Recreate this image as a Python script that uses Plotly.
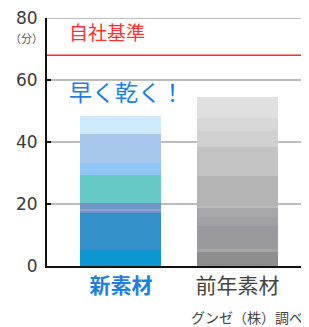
import plotly.graph_objects as go

categories = ["新素材", "前年素材"]
tick_labels = ["<span style='color:#1f7fe0'><b>新素材</b></span>", "前年素材"]

# stacked colour bands of each bar (minutes), bottom to top
new_bands = [5.1, 11.9, 0.9, 0.5, 2.0, 9.0, 3.7, 9.5, 5.9]
new_colors = ["#0c97d0", "#3390c8", "#6c96c6", "#8aaad4", "#6c96c6", "#66c9c6", "#93c6f8", "#a7c7ec", "#cfeafc"]

old_bands = [4.5, 1.1, 7.4, 2.7, 3.3, 0.4, 9.5, 9.5, 5.3, 4.2, 6.6]
old_colors = ["#8e8e8e", "#a6a6a6", "#9a9a9c", "#a2a2a6", "#a8a8ac", "#bdbdbd", "#b4b4b4", "#c3c3c3", "#d1d1d1", "#d8d8d8", "#e0e0e0"]

standard_value = 68
standard_label = "自社基準"
headline = "早く乾く！"
unit_label = "（分）"
source_label = "グンゼ（株）調べ"
y_ticks = [0, 20, 40, 60, 80]

FONT = "Noto Sans CJK JP"
fig = go.Figure()
for v, c in zip(new_bands, new_colors):
    fig.add_trace(go.Bar(x=[categories[0]], y=[v], marker=dict(color=c, line=dict(width=0)),
                         width=0.695, showlegend=False, hoverinfo="skip"))
for v, c in zip(old_bands, old_colors):
    fig.add_trace(go.Bar(x=[categories[1]], y=[v], marker=dict(color=c, line=dict(width=0)),
                         width=0.695, showlegend=False, hoverinfo="skip"))

# top gridline at the axis maximum (plotly skips it at the range edge)
fig.add_shape(type="line", xref="paper", x0=0, x1=1, yref="y", y0=y_ticks[-1], y1=y_ticks[-1],
              line=dict(color="#bdbdbd", width=2), layer="below")
fig.add_shape(type="line", xref="paper", x0=0, x1=1, yref="y", y0=standard_value, y1=standard_value,
              line=dict(color="#ff2a2a", width=1.5))

fig.add_annotation(text=standard_label, xref="paper", x=0.078, xanchor="left", yref="y", y=75.8,
                   yanchor="middle", showarrow=False, font=dict(family=FONT, size=19, color="#ff3030"))
fig.add_annotation(text=headline, xref="paper", x=0.078, xanchor="left", yref="y", y=56.5,
                   yanchor="middle", showarrow=False, font=dict(family=FONT, size=23, color="#1a7fe6"))
fig.add_annotation(text=unit_label, xref="paper", x=-0.078, xanchor="center", yref="y", y=73.6,
                   yanchor="middle", showarrow=False, font=dict(family=FONT, size=11, color="#555555"))
fig.add_annotation(text=source_label, xref="paper", x=0.985, xanchor="right", yref="paper", y=-0.206,
                   yanchor="middle", showarrow=False, font=dict(family=FONT, size=14, color="#444444"))

# the page body adds an 8px margin, so the figure is 8px smaller
fig.update_layout(
    width=301, height=319,
    margin=dict(l=39, r=0, t=6, b=61),
    barmode="stack",
    plot_bgcolor="white", paper_bgcolor="white",
    font=dict(family=FONT),
    xaxis=dict(type="category", categoryarray=categories, range=[-0.635, 1.614],
               tickvals=categories, ticktext=tick_labels,
               tickfont=dict(family=FONT, size=21, color="#444444"),
               showline=True, linecolor="#111111", linewidth=2, ticks="", showgrid=False,
               fixedrange=True),
    yaxis=dict(range=[0, 80], tickvals=y_ticks, ticktext=[str(t) for t in y_ticks],
               tickfont=dict(family="DejaVu Sans", size=17, color="#3a3a3a"),
               ticklabelstandoff=4, ticklabeloverflow="allow",
               showline=True, linecolor="#111111", linewidth=2,
               ticks="inside", ticklen=4, tickwidth=2, tickcolor="#111111",
               showgrid=True, gridcolor="#bdbdbd", gridwidth=2, zeroline=False,
               fixedrange=True),
)

fig.write_html("out.html")
